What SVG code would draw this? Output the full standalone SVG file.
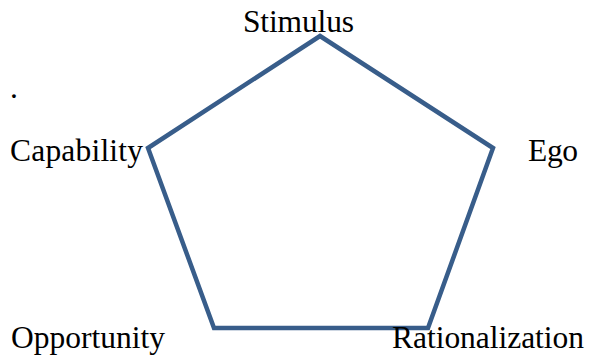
<svg xmlns="http://www.w3.org/2000/svg" width="590" height="355" viewBox="0 0 590 355">
<style>
.lbl{font-family:"Liberation Serif","Times New Roman",serif;font-size:31.5px;fill:#000}
.edge{fill:none;stroke:#385D8A;stroke-width:4.5;stroke-linejoin:miter}
</style>
<rect width="590" height="355" fill="#fff"/>
<g id="connectors">
<polygon class="edge" points="320,36 493,148 428,328 214,328 148,148"/>
</g>
<g id="stimulus"><text class="lbl" x="243" y="32" textLength="111">Stimulus</text></g>
<g id="dot"><text class="lbl" x="10" y="98">.</text></g>
<g id="capability"><text class="lbl" x="10" y="161" textLength="133">Capability</text></g>
<g id="ego"><text class="lbl" x="528" y="161" textLength="50">Ego</text></g>
<g id="opportunity"><text class="lbl" x="11" y="348" textLength="154">Opportunity</text></g>
<g id="rationalization"><text class="lbl" x="392" y="348" textLength="192">Rationalization</text></g>
</svg>
